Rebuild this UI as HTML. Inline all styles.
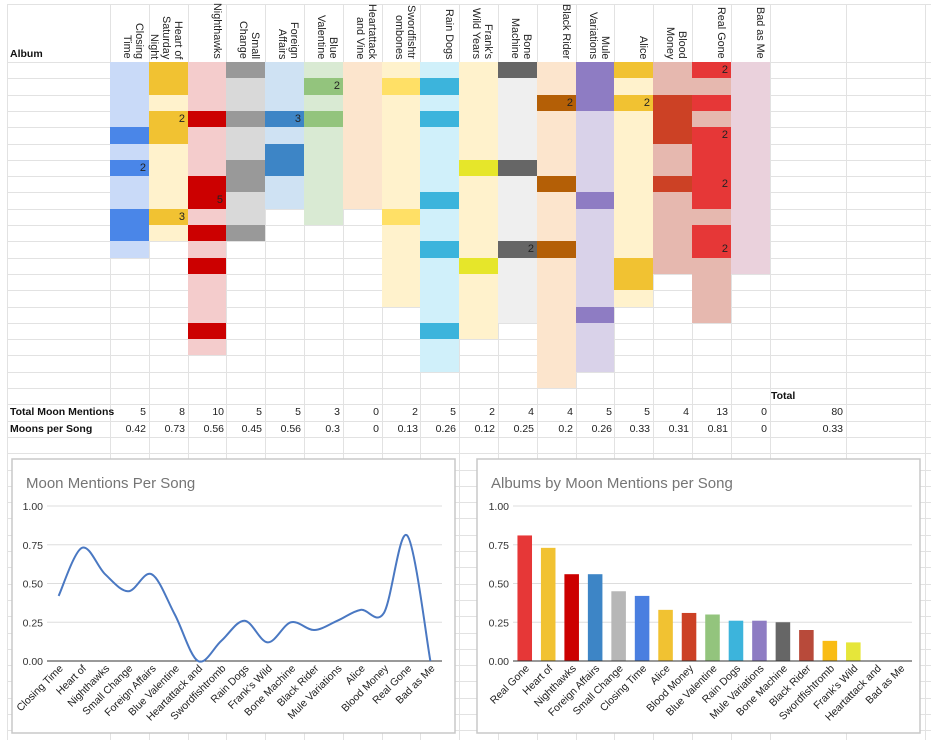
<!DOCTYPE html>
<html><head><meta charset="utf-8"><style>
body{margin:0;width:931px;height:740px;overflow:hidden;background:#fff;font-family:"Liberation Sans",Arial,sans-serif;position:relative}
#sheet{position:absolute;left:0;top:0;width:931px;height:740px}
.hl{position:absolute;height:1px;background:#e2e2e2;left:7px;width:924px}
.vl{position:absolute;width:1px;background:#e2e2e2;top:4px;height:736px}
.cell{position:absolute;font-size:11px;color:#222;text-align:right;box-sizing:border-box;padding-right:3px;line-height:16px}
.hdr{position:absolute;top:3px;height:57px;width:38px}
.hdr span{position:absolute;right:3px;bottom:1px;writing-mode:vertical-rl;text-align:end;white-space:nowrap;font-size:10.8px;line-height:12px;color:#222}
.lbl{position:absolute;font-size:10.5px;font-weight:bold;color:#111;line-height:16px}
svg text{font-family:"Liberation Sans",Arial,sans-serif}
</style></head><body>
<div id="sheet"></div>
<div class="lbl" style="left:10px;top:46px">Album</div>
<svg id="charts" width="931" height="740" style="position:absolute;left:0;top:0"></svg>
<script>
const albums=["Closing Time","Heart of Saturday Night","Nighthawks","Small Change","Foreign Affairs","Blue Valentine","Heartattack and Vine","Swordfishtrombones","Rain Dogs","Frank's Wild Years","Bone Machine","Black Rider","Mule Variations","Alice","Blood Money","Real Gone","Bad as Me"];
const headerLabels=["Closing<br>Time","Heart of<br>Saturday<br>Night","Nighthawks","Small<br>Change","Foreign<br>Affairs","Blue<br>Valentine","Heartattack<br>and Vine","Swordfishtr<br>ombones","Rain Dogs","Frank's<br>Wild Years","Bone<br>Machine","Black Rider","Mule<br>Variations","Alice","Blood<br>Money","Real Gone","Bad as Me"];
const shortLabels=["Closing Time","Heart of","Nighthawks","Small Change","Foreign Affairs","Blue Valentine","Heartattack and","Swordfishtromb","Rain Dogs","Frank's Wild","Bone Machine","Black Rider","Mule Variations","Alice","Blood Money","Real Gone","Bad as Me"];
const songCounts=[12,11,18,11,9,10,9,15,19,17,16,20,19,15,13,16,13];
const moonRows=["4:1,6:2,9:1,10:1","0:1,1:1,3:2,4:1,9:3","3:1,7:1,8:5,10:1,12:1,16:1","0:1,3:1,6:1,7:1,10:1","3:3,5:1,6:1","1:2,3:1","","1:1,9:1","1:1,3:1,8:1,11:1,16:1","6:1,12:1","0:1,6:1,11:2","2:2,7:1,11:1","0:1,1:1,2:1,8:1,15:1","0:1,2:2,12:1,13:1","2:1,3:1,4:1,7:1","0:2,2:1,4:2,5:1,6:1,7:2,8:1,10:1,11:2",""];
const totals=[5,8,10,5,5,3,0,2,5,2,4,4,5,5,4,13,0];
const perSong=[0.42,0.73,0.56,0.45,0.56,0.3,0,0.13,0.26,0.12,0.25,0.2,0.26,0.33,0.31,0.81,0];
const lightCol=["#c9daf8","#fff2cc","#f4cccc","#d9d9d9","#cfe2f3","#d9ead3","#fce5cd","#fff2cc","#d0f0fa","#fff2cc","#efefef","#fce5cd","#d9d2e9","#fff2cc","#e6b8af","#e6b8af","#ead1dc"];
const darkCol=["#4a86e8","#f1c232","#cc0000","#999999","#3d85c6","#93c47d","#f6b26b","#ffe066","#3cb4dc","#e6e62a","#666666","#b45f06","#8e7cc3","#f1c232","#cc4125","#e63737","#c27ba0"];
const barColors=["#4a7fe0","#f1c232","#cc0000","#b7b7b7","#3d85c6","#93c47d","#e8a070","#f9bc14","#3cb4dc","#e6e63a","#666666","#b84a3a","#8e7cc3","#f1c232","#cc4125","#e63737","#c27ba0"];
const grandTotal="80", grandPerSong="0.33";
const yTicks=[0,0.25,0.5,0.75,1];

const sheet=document.getElementById('sheet');
const ROW0=62,RH=16.3,COL0=110,CW=38.8;
const rowY=i=>ROW0+RH*i;
const colX=j=>COL0+CW*j;
const hy=[4];for(let i=0;i<42;i++)hy.push(rowY(i));
hy.forEach(y=>{const d=document.createElement('div');d.className='hl';d.style.top=Math.round(y)+'px';


sheet.appendChild(d);});
const vx=[7];for(let j=0;j<=17;j++)vx.push(colX(j));vx.push(846,925);
vx.forEach(x=>{const d=document.createElement('div');d.className='vl';d.style.left=Math.round(x)+'px';


sheet.appendChild(d);});
albums.forEach((a,j)=>{
  const h=document.createElement('div');h.className='hdr';h.style.left=Math.round(colX(j))+'px';h.innerHTML='<span>'+headerLabels[j]+'</span>';
  
  
  sheet.appendChild(h);
  const marks={};moonRows[j].split(',').filter(s=>s).forEach(s=>{const [r,v]=s.split(':');marks[+r]=+v;});
  for(let i=0;i<songCounts[j];i++){
    const c=document.createElement('div');c.className='cell';
    const dark=marks[i]!==undefined;
    c.style.cssText=`left:${Math.round(colX(j))}px;top:${Math.round(rowY(i))}px;width:${Math.round(colX(j+1))-Math.round(colX(j))}px;height:${Math.round(rowY(i+1))-Math.round(rowY(i))}px;background:${dark?darkCol[j]:lightCol[j]}`;
    if(dark&&marks[i]>1)c.textContent=marks[i];
    
    
    sheet.appendChild(c);
  }
  [[totals[j],21],[perSong[j],22]].forEach(([v,r])=>{
    const c=document.createElement('div');c.className='cell';
    c.style.cssText=`left:${Math.round(colX(j))}px;top:${Math.round(rowY(r))}px;width:39px;height:16px;font-size:10.5px`;
    c.textContent=v;
    
    
    sheet.appendChild(c);
  });
});
function addLbl(t,x,y,name,w,right){const d=document.createElement('div');d.className=right?'cell':'lbl';d.textContent=t;d.style.left=x+'px';d.style.top=Math.round(y)+'px';if(w){d.style.width=w+'px';d.style.fontSize='10.5px';}


document.body.appendChild(d);}
addLbl('Total Moon Mentions',10,rowY(21),'total-moon-mentions-label');
addLbl('Moons per Song',10,rowY(22),'moons-per-song-label');
addLbl('Total',771,rowY(20),'total-header');
addLbl(grandTotal,768,rowY(21),'grand-total',78,true);
addLbl(grandPerSong,768,rowY(22),'grand-per-song',78,true);

const svg=document.getElementById('charts');const NS='http://www.w3.org/2000/svg';
function el(tag,attrs,parent){const e=document.createElementNS(NS,tag);for(const k in attrs)e.setAttribute(k,attrs[k]);(parent||svg).appendChild(e);return e;}
function chartFrame(x0,title,name){
  const g=el('g',{});
  
  
  const r=el('rect',{x:x0,y:459,width:443,height:274,fill:'#fff',stroke:'#c8c8c8','stroke-width':1.5},g);
  
  
  const t=el('text',{x:x0+14,y:488,'font-size':15,fill:'#757575'},g);t.textContent=title;
  
  
  return g;
}
function axes(g,px0,px1,py0,py1){
  const ys=v=>py0+(py1-py0)*(1-v);
  yTicks.forEach(v=>{
    const l=el('line',{x1:px0,x2:px1,y1:ys(v),y2:ys(v),stroke:v===0?'#333':'#ddd','stroke-width':1},g);
    
    
    const t=el('text',{x:px0-4,y:ys(v)+4,'font-size':10.5,fill:'#333','text-anchor':'end'},g);t.textContent=v.toFixed(2);
    
    
  });
  return ys;
}
function xLabels(g,labels,xs,py1){
  labels.forEach((s,i)=>{const x=xs(i)+5,y=py1+8;
    const t=el('text',{x:x,y:y,'font-size':10.5,fill:'#222','text-anchor':'end',transform:`rotate(-45 ${x} ${y})`},g);t.textContent=s;
    
    
  });
}
{
  const g=chartFrame(12,'Moon Mentions Per Song','line-chart');
  const px0=47,px1=442,py0=506,py1=661;
  const ys=axes(g,px0,px1,py0,py1);
  const band=(px1-px0)/albums.length;const xs=i=>px0+band*(i+0.5);
  const pts=perSong.map((v,i)=>[xs(i),ys(v)]);
  let d=`M${pts[0][0]},${pts[0][1]}`;
  for(let i=0;i<pts.length-1;i++){
    const p0=pts[Math.max(i-1,0)],p1=pts[i],p2=pts[i+1],p3=pts[Math.min(i+2,pts.length-1)];
    d+=` C${p1[0]+(p2[0]-p0[0])/6},${p1[1]+(p2[1]-p0[1])/6} ${p2[0]-(p3[0]-p1[0])/6},${p2[1]-(p3[1]-p1[1])/6} ${p2[0]},${p2[1]}`;
  }
  const p=el('path',{d:d,fill:'none',stroke:'#4a78c2','stroke-width':2},g);
  
  
  xLabels(g,shortLabels,xs,py1);
}
{
  const g=chartFrame(477,'Albums by Moon Mentions per Song','bar-chart');
  const px0=513,px1=912,py0=506,py1=661;
  const ys=axes(g,px0,px1,py0,py1);
  const order=albums.map((a,i)=>i).sort((a,b)=>perSong[b]-perSong[a]);
  const band=(px1-px0)/albums.length;const xs=i=>px0+band*(i+0.5);const bw=band*0.62;
  order.forEach((k,i)=>{
    const r=el('rect',{x:xs(i)-bw/2,y:ys(perSong[k]),width:bw,height:Math.max(py1-ys(perSong[k]),0.01),fill:barColors[k]},g);
    
    
  });
  const ax=el('line',{x1:px0,x2:px1,y1:py1,y2:py1,stroke:'#333'},g);
  
  
  xLabels(g,order.map(k=>shortLabels[k]),xs,py1);
}
</script>
</body></html>
